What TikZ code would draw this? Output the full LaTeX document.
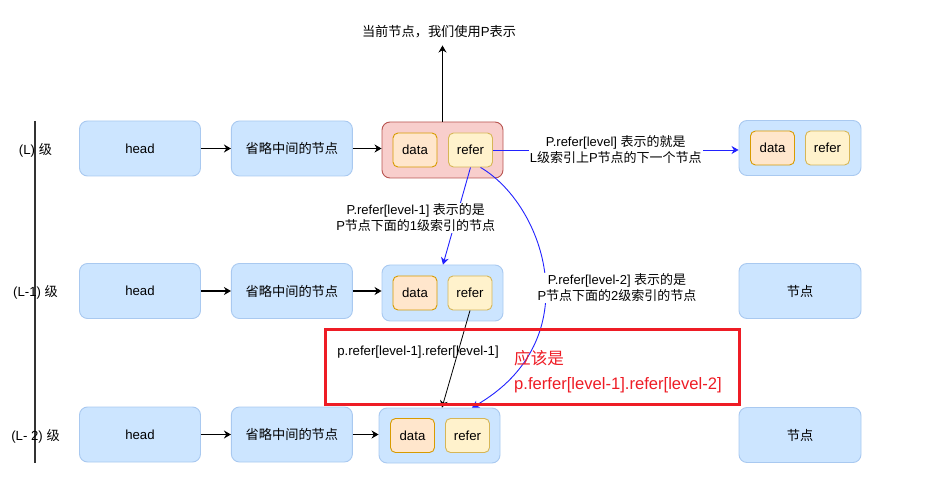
\documentclass[tikz,border=0pt]{standalone}
\usepackage{fontspec}
\setmainfont{Liberation Sans}
\newfontfamily\cjk{Noto Sans CJK SC}
\newcommand{\zh}[1]{{\cjk #1}}
\usepackage{tikz}
\usetikzlibrary{positioning,arrows.meta}
\definecolor{boxblue}{HTML}{CCE5FF}
\definecolor{lineblue}{HTML}{A9C9F0}
\definecolor{pfill}{HTML}{F8CECC}
\definecolor{pline}{HTML}{B85450}
\definecolor{dfill}{HTML}{FFE6CC}
\definecolor{dline}{HTML}{D79B00}
\definecolor{rfill}{HTML}{FFF2CC}
\definecolor{rline}{HTML}{D6B656}
\definecolor{notered}{HTML}{EE1C25}
\definecolor{ptrblue}{HTML}{2222FF}
\tikzset{
  listbox/.style={rectangle, rounded corners=8pt, draw=lineblue, fill=boxblue, line width=0.9pt,
                  minimum width=121pt, minimum height=55pt, font=\fontsize{13.2}{15}\selectfont},
  pbox/.style={listbox, draw=pline, fill=pfill, minimum height=56pt},
  databox/.style={rectangle, rounded corners=5pt, draw=dline, fill=dfill, line width=0.9pt,
                  minimum width=44pt, minimum height=34pt, font=\fontsize{13.2}{15}\selectfont},
  referbox/.style={databox, draw=rline, fill=rfill},
  fwd/.style={-{Stealth[length=7pt,width=8pt]}, line width=1.1pt},
  ptr/.style={fwd, draw=ptrblue, line width=0.9pt},
  lbl/.style={fill=white, align=center, inner sep=1pt, font=\fontsize{13}{16}\selectfont}, % covers the line
  txt/.style={align=center, inner sep=1pt, font=\fontsize{13.2}{16}\selectfont},
  lvl/.style={inner sep=0pt, font=\fontsize{13.2}{15}\selectfont},
  note/.style={rectangle, draw=notered, line width=3pt, minimum width=414pt, minimum height=75pt, inner sep=0pt},
  redtxt/.style={text=notered, inner sep=0pt, font=\fontsize{16.6}{18}\selectfont},
}
\begin{document}
\begin{tikzpicture}[x=1pt, y=-1pt]
  \useasboundingbox (0,0) rectangle (927,481);

  % level axis
  \coordinate (axtop) at (35,121);
  \coordinate (axbot) at (35,463);
  \draw[line width=1.2pt, draw=black!80] (axtop) -- (axbot);
  \node[lvl] (lvl1) at (35.5,150) {(L) \zh{级}};
  \node[lvl] (lvl2) at (35.5,292) {(L-1) \zh{级}};
  \node[lvl] (lvl3) at (35.5,436) {(L- 2) \zh{级}};

  % level L
  \node[listbox] (head1) at (140,148.5) {head};
  \node[listbox] (mid1) [right=30pt of head1] {\zh{省略中间的节点}};
  \node[pbox] (P) at (442.5,150) {};
  \node[databox] (data1) at ([xshift=-27.5pt]P.center) {data};
  \node[referbox] (refer1) at ([xshift=28pt]P.center) {refer};
  \node[listbox, minimum width=122pt] (next1) at (800,148) {};
  \node[databox] (data4) at ([xshift=-27.5pt]next1.center) {data};
  \node[referbox] (refer4) at ([xshift=27.5pt]next1.center) {refer};

  % level L-1
  \node[listbox] (head2) at (140,291) {head};
  \node[listbox] (mid2) [right=30pt of head2] {\zh{省略中间的节点}};
  \node[listbox, minimum height=56pt] (n2) at (442.5,293) {};
  \node[databox] (data2) at ([xshift=-27.5pt]n2.center) {data};
  \node[referbox] (refer2) at ([xshift=27.5pt]n2.center) {refer};
  \node[listbox, minimum width=122pt] (right2) at (800,291) {\zh{节点}};

  % level L-2
  \node[listbox] (head3) at (140,434.5) {head};
  \node[listbox] (mid3) [right=30pt of head3] {\zh{省略中间的节点}};
  \node[listbox, minimum height=55pt] (n3) at (439.5,435.5) {};
  \node[databox] (data3) at ([xshift=-27pt]n3.center) {data};
  \node[referbox] (refer3) at ([xshift=28pt]n3.center) {refer};
  \node[listbox, minimum width=122pt] (right3) at (800,435) {\zh{节点}};

  % current node
  \node[txt] (cur) at (439,32) {\zh{当前节点，我们使用}P\zh{表示}};
  \draw[fwd, shorten >=6pt] (P.north) -- (P.north |- cur.south);

  \draw[fwd] (head1) -- (mid1);
  \draw[fwd] (mid1.east) -- (mid1.east -| P.west);
  \draw[fwd] (head2) -- (mid2);
  \draw[fwd] (mid2.east) -- (mid2.east -| n2.west);
  \draw[fwd] (head3) -- (mid3);
  \draw[fwd] (mid3.east) -- (mid3.east -| n3.west);

  % refer pointers
  \draw[ptr] (refer1.east) -- (refer1.east -| next1.west)
    node[lbl, midway] {P.refer[level] \zh{表示的就是}\\L\zh{级索引上}P\zh{节点的下一个节点}};
  \draw[ptr] (refer1.south) -- ([xshift=0.5pt]n2.north)
    node[lbl, pos=.5, xshift=-41pt, yshift=-2pt] {P.refer[level-1] \zh{表示的是}\\P\zh{节点下面的}1\zh{级索引的节点}};
  \draw[ptr] ([xshift=10pt]refer1.south) .. controls (545,205) and (590,340) .. ([xshift=32.5pt]n3.north);
  \node[lbl] (lvl2note) at (617,288) {P.refer[level-2] \zh{表示的是}\\P\zh{节点下面的}2\zh{级索引的节点}};
  \draw[fwd, line width=0.8pt] (refer2.south) -- ([xshift=2.5pt]n3.north);

  % correction
  \node[note] (fix) at (532,366.5) {};
  \node[txt] (wrong) at (418,352) {p.refer[level-1].refer[level-1]};
  \node[redtxt, anchor=west] (should) at (514,358) {\zh{应该是}};
  \node[redtxt, anchor=west] (right) at (514,385) {p.ferfer[level-1].refer[level-2]};
\end{tikzpicture}
\end{document}
